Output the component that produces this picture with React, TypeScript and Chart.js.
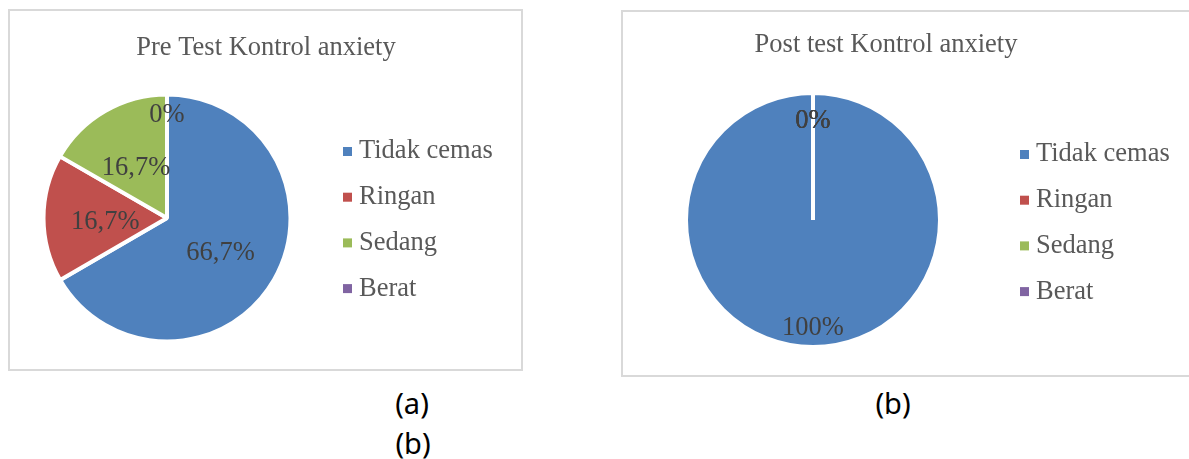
import React, { useEffect, useRef } from "react";
import { Chart, registerables } from "chart.js";

Chart.register(...registerables);

// ---- data ----
const categories = ["Tidak cemas", "Ringan", "Sedang", "Berat"];
const preTestValues = [66.7, 16.7, 16.7, 0];
const postTestValues = [100, 0, 0, 0];
const sliceColors = ["#4f81bd", "#c0504d", "#9bbb59", "#8064a2"];
const preTitle = "Pre Test Kontrol anxiety";
const postTitle = "Post test Kontrol anxiety";
const captionA = "(a)";
const captionB = "(b)";

const SERIF = '"Liberation Serif", "Times New Roman", serif';
const FONT_SIZE = 26.5;

function formatPct(v: number): string {
  const s = Number.isInteger(v) ? String(v) : v.toFixed(1);
  return s.replace(".", ",") + "%";
}

// data labels placed along each slice's mid-angle
const sliceLabelPlugin = {
  id: "sliceLabels",
  afterDatasetsDraw(chart: any, _args: any, opts: any) {
    const ctx = chart.ctx;
    const meta = chart.getDatasetMeta(0);
    const values = chart.data.datasets[0].data as number[];
    ctx.save();
    ctx.font = `${opts.size}px ${SERIF}`;
    ctx.fillStyle = opts.color;
    ctx.textAlign = "center";
    ctx.textBaseline = "middle";
    meta.data.forEach((arc: any, i: number) => {
      const p = arc.getProps(["x", "y", "startAngle", "endAngle", "outerRadius"], true);
      const mid = (p.startAngle + p.endAngle) / 2;
      const f = opts.radii[i];
      ctx.fillText(
        formatPct(values[i]),
        p.x + Math.cos(mid) * p.outerRadius * f,
        p.y + Math.sin(mid) * p.outerRadius * f + opts.dy
      );
    });
    ctx.restore();
  },
};

// title and legend drawn in Excel style
const decorPlugin = {
  id: "decor",
  afterDraw(chart: any, _args: any, opts: any) {
    const ctx = chart.ctx;
    ctx.save();
    ctx.font = `${opts.fontSize}px ${SERIF}`;
    ctx.textBaseline = "middle";
    ctx.fillStyle = opts.textColor;
    ctx.textAlign = "center";
    ctx.fillText(opts.title, opts.titleX, opts.titleY);
    const labels = chart.data.labels as string[];
    const colors = chart.data.datasets[0].backgroundColor as string[];
    ctx.textAlign = "left";
    labels.forEach((lab, i) => {
      const y = opts.legendY + i * opts.legendPitch;
      ctx.fillStyle = colors[i];
      ctx.fillRect(opts.boxX, y - opts.boxSize / 2, opts.boxSize, opts.boxSize);
      ctx.fillStyle = opts.textColor;
      ctx.fillText(lab, opts.textX, y);
    });
    ctx.restore();
  },
};

type PieProps = {
  title: string;
  values: number[];
  width: number;
  height: number;
  layoutPad: { left: number; right: number; top: number; bottom: number };
  labelRadii: number[];
  labelDy: number;
  decor: {
    titleX: number;
    titleY: number;
    boxX: number;
    textX: number;
    legendY: number;
    legendPitch: number;
  };
};

function PieChart(props: PieProps) {
  const ref = useRef<HTMLCanvasElement | null>(null);
  useEffect(() => {
    if (!ref.current) return;
    const chart = new Chart(ref.current, {
      type: "pie",
      data: {
        labels: categories,
        datasets: [
          {
            data: props.values,
            backgroundColor: sliceColors,
            borderColor: "#ffffff",
            borderWidth: 4,
          },
        ],
      },
      options: {
        animation: false,
        responsive: false,
        events: [],
        layout: { padding: props.layoutPad },
        plugins: {
          title: { display: false },
          legend: { display: false },
          tooltip: { enabled: false },
          sliceLabels: {
            size: FONT_SIZE,
            color: "#404040",
            radii: props.labelRadii,
            dy: props.labelDy,
          },
          decor: {
            ...props.decor,
            title: props.title,
            fontSize: FONT_SIZE,
            textColor: "#595959",
            boxSize: 9,
          },
        } as any,
      },
      plugins: [sliceLabelPlugin as any, decorPlugin as any],
    });
    return () => chart.destroy();
  }, []);
  return (
    <canvas
      ref={ref}
      width={props.width}
      height={props.height}
      style={{ display: "block", width: props.width, height: props.height }}
    />
  );
}

const captionStyle: React.CSSProperties = {
  position: "absolute",
  transform: "translate(-50%, -50%)",
  fontFamily: '"Noto Sans", sans-serif',
  fontSize: 29,
  lineHeight: 1,
  color: "#000",
  whiteSpace: "nowrap",
};

export default function App() {
  return (
    <div
      style={{
        position: "absolute",
        left: 0,
        top: 0,
        width: 1189,
        height: 459,
        overflow: "hidden",
        background: "#fff",
      }}
    >
      <div
        style={{
          position: "absolute",
          left: 8,
          top: 9,
          width: 515,
          height: 362,
          border: "2px solid #d9d9d9",
          boxSizing: "border-box",
        }}
      >
        <PieChart
          title={preTitle}
          values={preTestValues}
          width={511}
          height={358}
          layoutPad={{ left: 7, right: 204, top: 81.5, bottom: 25.5 }}
          labelRadii={[0.5, 0.5, 0.5, 0.87]}
          labelDy={4}
          decor={{
            titleX: 256,
            titleY: 37.5,
            boxX: 333,
            textX: 349,
            legendY: 140.5,
            legendPitch: 45.7,
          }}
        />
      </div>
      <div
        style={{
          position: "absolute",
          left: 621,
          top: 10,
          width: 590,
          height: 367,
          border: "2px solid #d9d9d9",
          boxSizing: "border-box",
        }}
      >
        <PieChart
          title={postTitle}
          values={postTestValues}
          width={586}
          height={363}
          layoutPad={{ left: 40, right: 246, top: 79, bottom: 26 }}
          labelRadii={[0.83, 0.8, 0.8, 0.8]}
          labelDy={3}
          decor={{
            titleX: 263,
            titleY: 33.5,
            boxX: 397,
            textX: 413,
            legendY: 142.5,
            legendPitch: 45.7,
          }}
        />
      </div>
      <div style={{ ...captionStyle, left: 412, top: 402 }}>{captionA}</div>
      <div style={{ ...captionStyle, left: 413, top: 442 }}>{captionB}</div>
      <div style={{ ...captionStyle, left: 893, top: 402 }}>{captionB}</div>
    </div>
  );
}
